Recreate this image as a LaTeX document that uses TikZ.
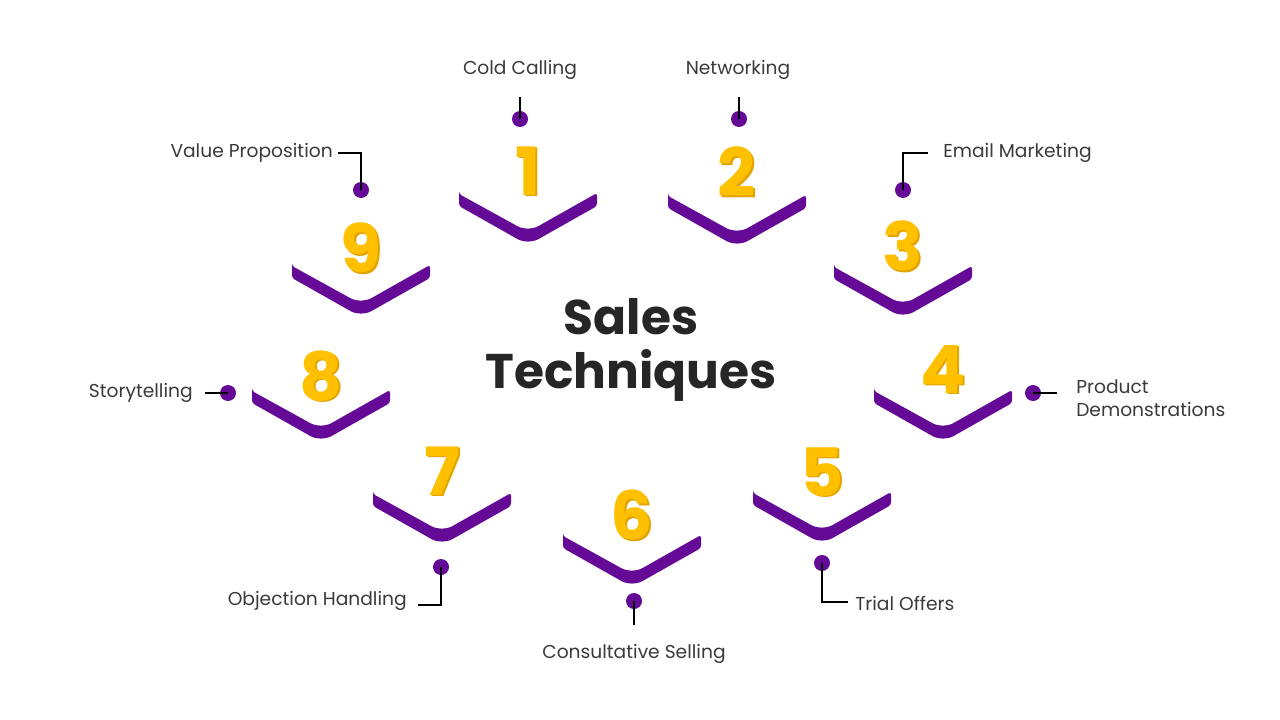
\documentclass[tikz,border=0pt]{standalone}
\usepackage{fontspec}
\setmainfont{Poppins}
\definecolor{vio}{HTML}{650A96}
\definecolor{gold}{HTML}{FFC000}
\definecolor{golddk}{HTML}{E2A400}
\definecolor{txt}{HTML}{3A3A3A}
\definecolor{ttl}{HTML}{262626}
\tikzset{
  dotnode/.style={circle,fill=vio,minimum size=12,inner sep=0pt},
  lbl/.style={text=txt,font=\fontsize{14}{17.5}\selectfont,inner sep=0pt},
  conn/.style={draw=black,line width=0.8pt},
  digit/.style={text=gold,font=\fontsize{50}{50}\selectfont\bfseries,inner sep=0pt},
  digitsh/.style={text=golddk,font=\fontsize{50}{50}\selectfont\bfseries,inner sep=0pt},
}
\newcommand{\chev}[3]{% name, cx, y
  \fill[vio] ({#2-69},{#3}) [rounded corners=2] -- ({#2-69},{#3+1}) [rounded corners=9] -- ({#2},{#3+39}) [rounded corners=2] -- ({#2+69},{#3}) -- ({#2+69},{#3+13}) [rounded corners=9] -- ({#2},{#3+52}) [rounded corners=2] -- ({#2-69},{#3+13}) -- cycle;
  \coordinate (#1) at ({#2},{#3+52});
}
\newcommand{\dig}[4]{% name, x, y, digit
  \node[digitsh] at ({#2+2},{#3+1.5}) {#4};
  \node[digit] (#1) at ({#2},{#3}) {#4};
}
\begin{document}
\begin{tikzpicture}[x=0.75pt,y=-0.75pt]
\useasboundingbox[fill=white] (0,0) rectangle (1280,720);
% chevrons
\chev{c1}{528}{193}
\chev{c2}{737}{195}
\chev{c3}{903}{266}
\chev{c4}{943}{390}
\chev{c5}{822}{492}
\chev{c6}{632}{535}
\chev{c7}{442}{493}
\chev{c8}{321}{390}
\chev{c9}{361}{265}
% digits
\dig{n1}{528}{171}{1}
\dig{n2}{737}{172}{2}
\dig{n3}{903}{246}{3}
\dig{n4}{943}{369}{4}
\dig{n5}{822}{472}{5}
\dig{n6}{632}{515}{6}
\dig{n7}{442}{471}{7}
\dig{n8}{321}{376}{8}
\dig{n9}{361}{248}{9}
% title
\node[text=ttl,font=\fontsize{36.5}{41}\selectfont\bfseries,align=center] (title) at (631,350) {Sales\\Techniques};
% dots
\node[dotnode] (d1) at (520,119) {};
\node[dotnode] (d2) at (739,119) {};
\node[dotnode] (d3) at (903,190) {};
\node[dotnode] (d4) at (1033,393) {};
\node[dotnode] (d5) at (822,563) {};
\node[dotnode] (d6) at (634,601) {};
\node[dotnode] (d7) at (441,567) {};
\node[dotnode] (d8) at (228,393) {};
\node[dotnode] (d9) at (361,190) {};
% free ends
\coordinate (e1) at (520,97);
\coordinate (e2) at (739,97);
\coordinate (e3) at (928,153);
\coordinate (e4) at (1057,393);
\coordinate (e5) at (848,602);
\coordinate (e6) at (634,625);
\coordinate (e7) at (418,605);
\coordinate (e8) at (205,393);
\coordinate (e9) at (338,153);
% connectors
\draw[conn] (d1.center) -- (e1);
\draw[conn] (d2.center) -- (e2);
\draw[conn] (d3.center) |- (e3);
\draw[conn] (d4.center) -- (e4);
\draw[conn] (d5.center) |- (e5);
\draw[conn] (d6.center) -- (e6);
\draw[conn] (d7.center) |- (e7);
\draw[conn] (d8.center) -- (e8);
\draw[conn] (d9.center) |- (e9);
% labels
\node[lbl] (l1) at (520,70) {Cold Calling};
\node[lbl] (l2) at (738,70) {Networking};
\node[lbl,anchor=west] (l3) at (943,153) {Email Marketing};
\node[lbl,anchor=west,align=left] (l4) at (1076,398) {Product\\Demonstrations};
\node[lbl,anchor=west] (l5) at (855,603) {Trial Offers};
\node[lbl] (l6) at (634,654) {Consultative Selling};
\node[lbl,anchor=east] (l7) at (407,601) {Objection Handling};
\node[lbl,anchor=east] (l8) at (193,393) {Storytelling};
\node[lbl,anchor=east] (l9) at (333,153) {Value Proposition};
\end{tikzpicture}
\end{document}
